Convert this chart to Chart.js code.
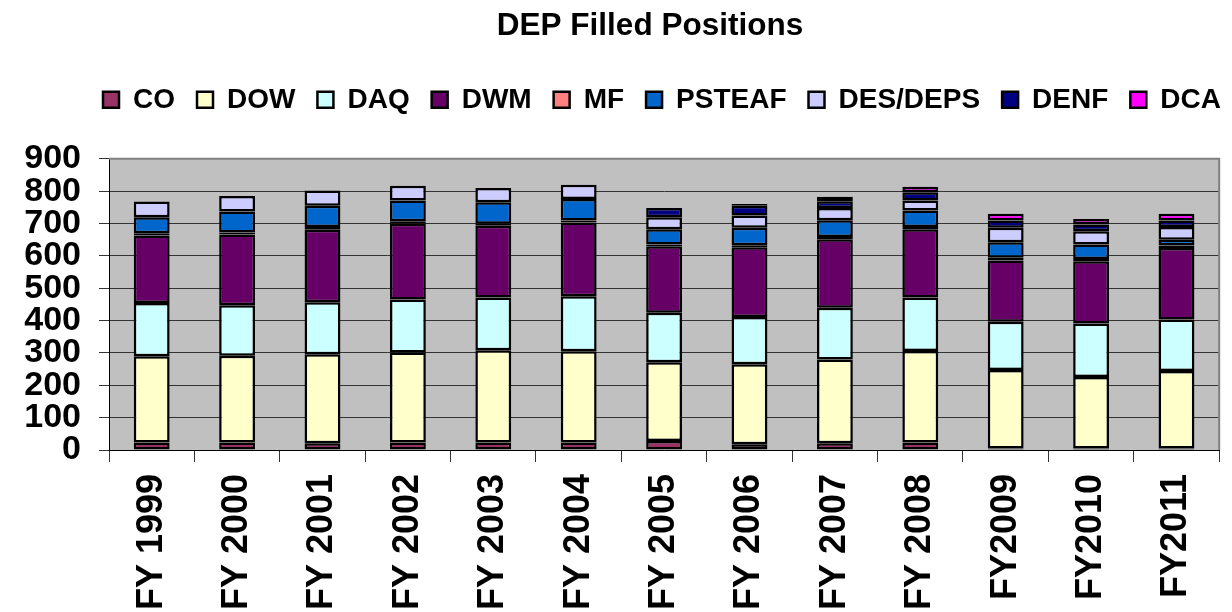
<!DOCTYPE html>
<html>
<head>
<meta charset="utf-8">
<script src="https://cdn.jsdelivr.net/npm/chart.js@4.4.1/dist/chart.umd.min.js"></script>
<style>
  html, body { margin: 0; padding: 0; background: #ffffff; }
  #wrap { width: 1232px; height: 612px; position: relative; }
</style>
</head>
<body>
<div id="wrap"><canvas id="c" width="1232" height="612"></canvas></div>
<script>
const categories = ['FY 1999','FY 2000','FY 2001','FY 2002','FY 2003','FY 2004','FY 2005','FY 2006','FY 2007','FY 2008','FY2009','FY2010','FY2011'];
const CO     = [23, 23, 21, 23, 23, 23, 28, 18, 21, 23, 5, 5, 5];
const DOW    = [267, 268, 275, 278, 285, 282, 243, 247, 259, 283, 242, 221, 239];
const DAQ    = [164, 156, 161, 164, 163, 170, 153, 146, 160, 165, 149, 165, 159];
const DWM    = [209, 219, 224, 234, 222, 228, 206, 216, 211, 211, 190, 192, 221];
const MF     = [7, 6, 8, 8, 6, 6, 5, 6, 7, 7, 8, 7, 8];
const PSTEAF = [49, 65, 66, 64, 67, 67, 47, 54, 52, 51, 48, 45, 18];
const DES    = [49, 48, 47, 46, 44, 44, 37, 38, 38, 31, 45, 41, 39];
const DENF   = [null, null, null, null, null, null, 29, 30, 21, 26, 22, 21, 20];
const DCA    = [null, null, null, null, null, null, null, 5, 14, 17, 21, 17, 21];
const yTicks = [0, 100, 200, 300, 400, 500, 600, 700, 800, 900];

const seriesNames = ['CO','DOW','DAQ','DWM','MF','PSTEAF','DES/DEPS','DENF','DCA'];
const seriesData = [CO, DOW, DAQ, DWM, MF, PSTEAF, DES, DENF, DCA];
const seriesColors = ['#993366','#FFFFCC','#CCFFFF','#660066','#FF8080','#0066CC','#CCCCFF','#000080','#FF00FF'];

const FONT = "'Liberation Sans', Arial, Helvetica, sans-serif";

const datasets = seriesNames.map((n, i) => ({
  label: n,
  data: seriesData[i],
  backgroundColor: seriesColors[i],
  borderColor: '#000000',
  borderWidth: 2.5,
  borderSkipped: false,
  barPercentage: 0.42,
  categoryPercentage: 1.0
}));

const plotDecor = {
  id: 'plotDecor',
  beforeLayout(chart) {
    const lg = chart.legend;
    if (lg && !lg._patched) {
      const f = lg.fit;
      lg.fit = function() { f.call(this); this.height += 35; };
      lg._patched = true;
    }
  },
  afterLayout(chart) {
    const t = chart.titleBlock;
    if (t) { t.left += 38; t.right += 38; }
    const lg = chart.legend;
    if (lg) { lg.left += 50; lg.right += 50; }
  },
  beforeDraw(chart) {
    const a = chart.chartArea, ctx = chart.ctx;
    ctx.save();
    ctx.fillStyle = '#C0C0C0';
    ctx.fillRect(a.left, a.top, a.right - a.left, a.bottom - a.top);
    ctx.restore();
  },
  afterDraw(chart) {
    const a = chart.chartArea, ctx = chart.ctx;
    ctx.save();
    ctx.strokeStyle = '#808080';
    ctx.lineWidth = 2;
    ctx.beginPath();
    ctx.moveTo(a.left, a.top);
    ctx.lineTo(a.right, a.top);
    ctx.lineTo(a.right, a.bottom);
    ctx.stroke();
    ctx.restore();
  }
};

new Chart(document.getElementById('c'), {
  type: 'bar',
  data: { labels: categories, datasets },
  options: {
    responsive: false,
    animation: false,
    layout: { padding: { left: 0, right: 8, top: 0, bottom: 0 } },
    plugins: {
      title: {
        display: true,
        text: 'DEP Filled Positions',
        color: '#000',
        font: { family: FONT, size: 31.5, weight: 'bold' },
        padding: { top: 7, bottom: 19 }
      },
      legend: {
        display: true,
        position: 'top',
        labels: {
          color: '#000',
          font: { family: FONT, size: 28, weight: 'bold' },
          boxWidth: 16,
          boxHeight: 16,
          padding: 22
        }
      },
      tooltip: { enabled: false }
    },
    scales: {
      x: {
        stacked: true,
        grid: { display: true, drawOnChartArea: false, drawTicks: true, tickLength: 12, offset: true, color: '#333' },
        border: { display: true, color: '#000', width: 1 },
        ticks: {
          color: '#000',
          font: { family: FONT, size: 36, weight: 'bold' },
          minRotation: 90, maxRotation: 90,
          autoSkip: false,
          padding: 12
        },
        afterFit(scale) { scale.height = 162; }
      },
      y: {
        stacked: true,
        min: 0, max: 900,
        afterBuildTicks(scale) { scale.ticks = yTicks.map(v => ({ value: v })); },
        grid: { color: '#333', lineWidth: 1, drawTicks: true, tickLength: 10 },
        border: { display: true, color: '#000', width: 1 },
        ticks: {
          color: '#000',
          font: { family: FONT, size: 34, weight: 'bold' },
          padding: 18,
          autoSkip: false
        },
        afterFit(scale) { scale.width = 109; }
      }
    }
  },
  plugins: [plotDecor]
});
</script>
</body>
</html>
